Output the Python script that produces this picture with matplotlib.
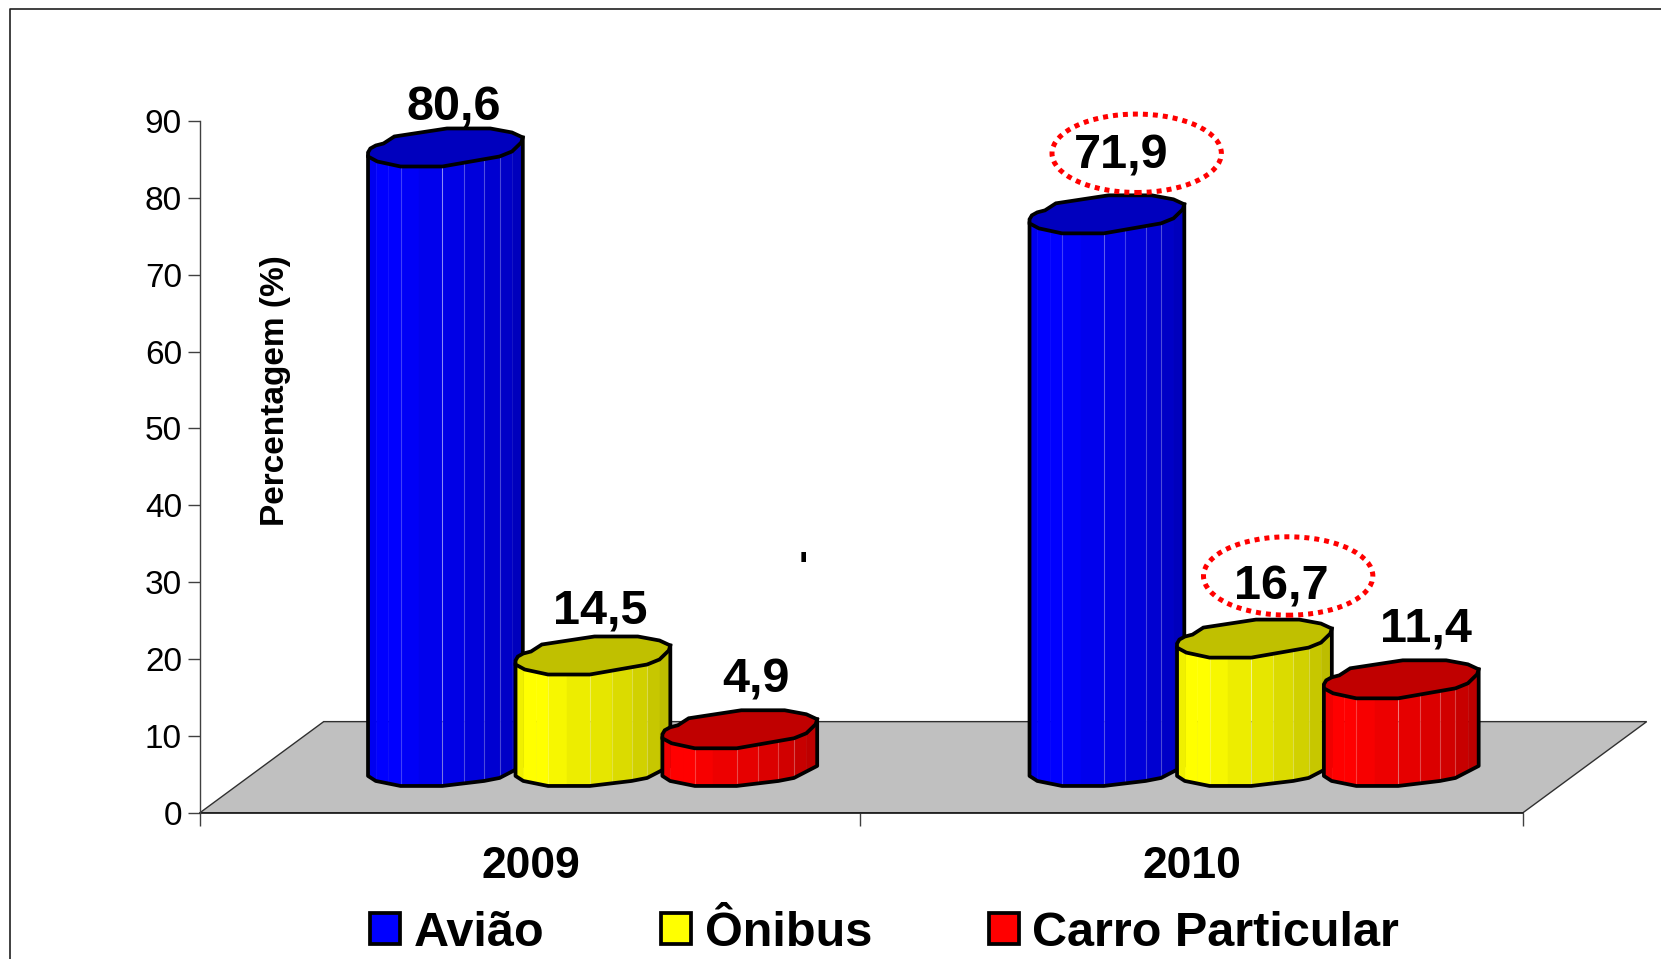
import numpy as np
import matplotlib
matplotlib.use('Agg')
import matplotlib.pyplot as plt
from matplotlib.lines import Line2D
from matplotlib.patches import Ellipse, Patch, Polygon

plt.rcParams['font.family'] = ['Liberation Sans', 'DejaVu Sans']

# dados
anos = ['2009', '2010']
series = ['Avião', 'Ônibus', 'Carro Particular']
aviao = [80.6, 71.9]
onibus = [14.5, 16.7]
carro = [4.9, 11.4]
rotulos = [['80,6', '14,5', '4,9'], ['71,9', '16,7', '11,4']]
yticks = list(range(0, 100, 10))

# cores: frente e tampa
cores = ['#0000ff', '#ffff00', '#ff0000']
cores_topo = ['#0000be', '#c0c000', '#c00000']

# forma octogonal da barra (fracao da largura, altura em unidades do eixo)
px = 7.68
topo_x = [0.0, 0.015, 0.05, 0.10, 0.17, 0.51, 0.79, 0.93, 1.0, 0.99, 0.93, 0.85, 0.48, 0.21, 0.06, 0.0]
topo_y = np.array([14, 18, 21, 23, 30, 38, 38, 34, 29, 24, 15, 10, 0, 0, 5, 10]) / px
frente_x = [0.0, 0.06, 0.21, 0.48, 0.85, 0.93, 0.99, 1.0]
frente_y = np.array([10, 5, 0, 0, 10, 15, 24, 29]) / px
base_x = [0.0, 0.05, 0.21, 0.48, 0.75, 0.85, 1.0]
base_y = np.array([10, 5, 0, 0, 5, 8, 20]) / px
faces = [0, .05, .13, .21, .33, .48, .62, .75, .85, .93, 1]
tons = [.94, 1, 1, .97, .93, .90, .86, .82, .78, .74]

base = 3.48
largura = 0.234
desloc = [0.254, 0.477, 0.699]

# posicoes dos rotulos e das elipses
rot_x = [[0.383, 0.605, 0.840], [1.392, 1.634, 1.854]]
rot_y = [[91.7, 26.2, 17.25], [85.4, 29.4, 23.9]]
elipses = [(1.416, 85.8), (1.645, 30.8)]

fig = plt.figure(figsize=(16.61, 9.59), dpi=100)
ax = fig.add_axes([200 / 1661, 146.3 / 959, 1323 / 1661, 691.7 / 959])
ax.set_xlim(0, 2)
ax.set_ylim(0, 90)

# piso
ax.add_patch(Polygon([(0, 0), (2, 0), (2.187, 11.85), (0.187, 11.85)], closed=True,
                     fc='#c0c0c0', ec='#303030', lw=1, clip_on=False, zorder=1))


def barra(x0, valor, cor, cor_topo, z):
    rgb = np.array(matplotlib.colors.to_rgb(cor))
    xs = np.array(base_x) * largura + x0
    topo = base + valor
    for i, t in enumerate(tons):
        f = np.array([faces[i], faces[i + 1]])
        yb = np.interp(f, base_x, base_y) + base
        yt = np.interp(f, frente_x, frente_y) + topo
        ax.fill_between(f * largura + x0, yb, yt, color=rgb * t, lw=0.3, zorder=z, clip_on=False)
        if i in (3, 5, 6, 7, 8):
            ax.plot([f[0] * largura + x0] * 2, [yb[0], yt[0]], color='white', alpha=0.25,
                    lw=0.8, zorder=z + 0.1, clip_on=False)
    # contorno
    cx = np.concatenate([[x0], xs, [x0 + largura]])
    cy = np.concatenate([[topo + frente_y[0]], base + base_y, [topo + frente_y[-1]]])
    ax.plot(cx, cy, color='black', lw=2.7, zorder=z + 0.2, clip_on=False, solid_joinstyle='round')
    ax.add_patch(Polygon(np.column_stack([np.array(topo_x) * largura + x0, np.array(topo_y) + topo]),
                         closed=True, fc=cor_topo, ec='black', lw=2.7, zorder=z + 0.3, clip_on=False))


valores = [aviao, onibus, carro]
for g in range(2):
    for s in range(3):
        barra(g + desloc[s], valores[s][g], cores[s], cores_topo[s], 3 + s)
        ax.text(rot_x[g][s], rot_y[g][s], rotulos[g][s], ha='center', va='center',
                fontsize=35, fontweight='bold', zorder=10)

for cx, cy in elipses:
    ax.add_patch(Ellipse((cx, cy), 0.256, 10.2, fc='none', ec='#ff0000', lw=3.6,
                         ls=(0, (1, 1)), zorder=11, clip_on=False))

# marca solta no meio do grafico
ax.text(0.912, 31.7, "'", ha='center', va='center', fontsize=28, fontweight='bold')

# eixos
for lado in ['top', 'right']:
    ax.spines[lado].set_visible(False)
ax.spines['left'].set_color('#404040')
ax.spines['left'].set_linewidth(1)
ax.spines['bottom'].set_color('#202020')
ax.spines['bottom'].set_linewidth(1.2)
ax.spines['bottom'].set_zorder(2)
ax.set_yticks(yticks)
ax.tick_params(axis='y', length=9, width=1, color='#404040', labelsize=24, pad=4)
ax.set_xticks([0, 0.997, 2])
ax.set_xticklabels([])
ax.tick_params(axis='x', which='major', length=9, width=1, color='#404040')
ax.set_xticks([0.5, 1.5], minor=True)
ax.set_xticklabels(anos, minor=True, fontsize=32, fontweight='bold')
ax.tick_params(axis='x', which='minor', length=0, pad=24)
ax.text(0.114, 54.9, 'Percentagem (%)', rotation=90, ha='center', va='center',
        fontsize=24, fontweight='bold')

# legenda
handles = [Patch(fc=c, ec='black', lw=2.7) for c in cores]
fig.legend(handles, series, loc='center', bbox_to_anchor=(884.6 / 1661, 26 / 959), ncols=3,
           frameon=False, handlelength=0.62, handleheight=0.62,
           handletextpad=0.28, columnspacing=2.4, prop={'weight': 'bold', 'size': 35})

# moldura (so esquerda e topo aparecem)
fig.add_artist(Line2D([10 / 1661, 10 / 1661, 1], [0, 1 - 9 / 959, 1 - 9 / 959], color='#202020', lw=1.2))

fig.savefig('out.png', dpi=100)
